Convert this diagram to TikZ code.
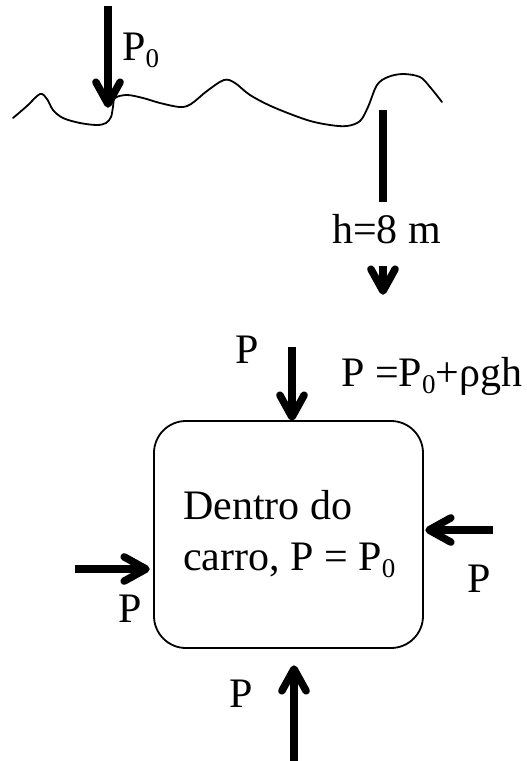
\documentclass[tikz,border=0pt]{standalone}
\usepackage{fontspec}
\setmainfont{Liberation Serif}
\usetikzlibrary{calc}
\newcommand\myidx[1]{\raisebox{-0.17em}{\fontsize{27}{27}\selectfont #1}}
\newcommand\mychev[2]{\draw[chev] ($(#1)!25pt!29:(#2)$) -- (#1) -- ($(#1)!25pt!-29:(#2)$);}
\tikzset{
  shaft/.style={line width=8pt},
  chev/.style={line width=7.5pt, line cap=round, line join=round},
  lbl/.style={anchor=base west, inner sep=0pt, font=\fontsize{42}{46}\selectfont},
  carbox/.style={draw, line width=1.8pt, rounded corners=32pt, inner sep=0pt},
  ground/.style={line width=1.8pt, line cap=round}
}
\begin{document}
\begin{tikzpicture}[x=1pt,y=-1pt]
\useasboundingbox (0,0) rectangle (527,761);
% ground surface
\draw[ground] plot[smooth, tension=0.55] coordinates {(13,118) (27,106) (40,94) (47,99) (53,110) (63,118) (80,123) (97,125) (106,123) (111,117) (113,107) (115,98) (127,95) (143,98) (160,103) (180,107) (191,104) (207,91) (224,80) (235,83) (250,95) (273,107) (307,120) (330,125) (347,126) (360,121) (368,107) (377,85) (388,77) (403,74) (420,77) (430,87) (442,102)};
% P0 arrow
\coordinate (p0t) at (108,6);
\coordinate (p0h) at (108,104);
\draw[shaft] (p0t) -- (p0h);
\mychev{p0h}{p0t}
\node[lbl] (p0lbl) at (122,60) {P\myidx{0}};
% depth bar and label
\coordinate (ht) at (383,110);
\coordinate (hb) at (383,202);
\draw[shaft] (ht) -- (hb);
\node[lbl] (hlbl) at (332,243) {h=8 m};
\coordinate (hat) at (383,266);
\coordinate (hah) at (383,291);
\draw[shaft] (hat) -- (hah);
\mychev{hah}{hat}
% car box
\node[carbox, minimum width=269pt, minimum height=227pt] (box) at (288.5,534.5) {};
\node[lbl] (in1) at (183,519) {Dentro do};
\node[lbl] (in2) at (183,570) {carro, P = P\myidx{0}};
% top arrow
\coordinate (tt) at (292,347);
\coordinate (th) at (292,417);
\draw[shaft] (tt) -- (th);
\mychev{th}{tt}
\node[lbl] (tp) at (235,363) {P};
\node[lbl] (eq) at (341,386) {P =P\myidx{0}+ρgh};
% left arrow
\coordinate (lt) at (75,569);
\coordinate (lh) at (146,569);
\draw[shaft] (lt) -- (lh);
\mychev{lh}{lt}
\node[lbl] (lp) at (118,622) {P};
% right arrow
\coordinate (rt) at (493,530);
\coordinate (rh) at (429,530);
\draw[shaft] (rt) -- (rh);
\mychev{rh}{rt}
\node[lbl] (rp) at (467,592) {P};
% bottom arrow
\coordinate (bt) at (294,761);
\coordinate (bh) at (294,669);
\draw[shaft] (bt) -- (bh);
\mychev{bh}{bt}
\node[lbl] (bp) at (229,707) {P};
\end{tikzpicture}
\end{document}
